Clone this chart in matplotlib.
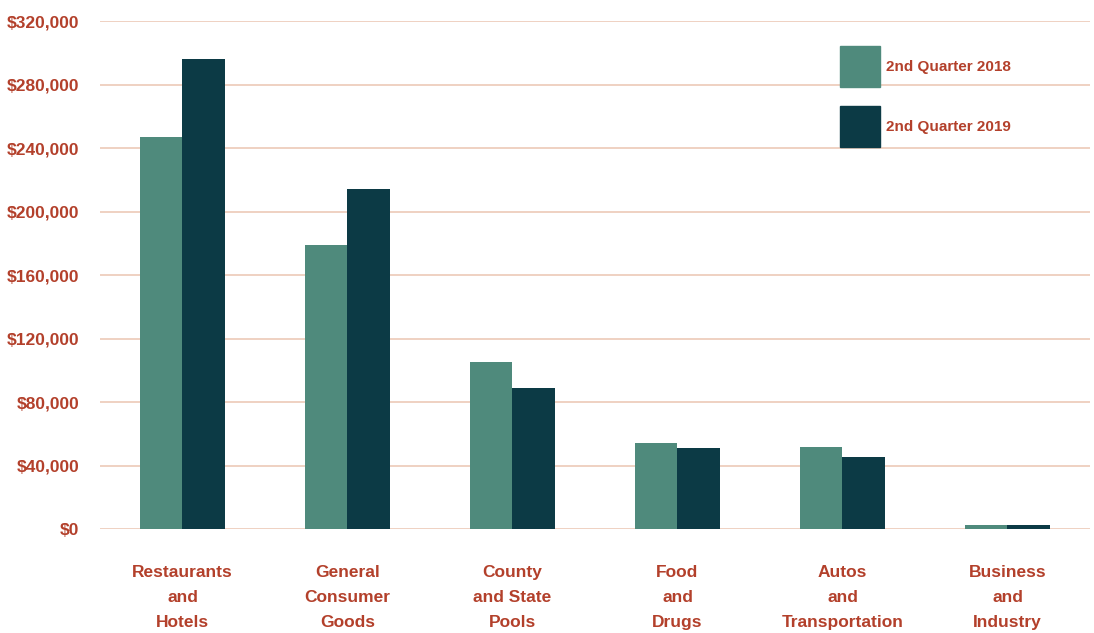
import matplotlib
matplotlib.use("Agg")
import matplotlib.pyplot as plt
import numpy as np
from matplotlib.ticker import FuncFormatter
from matplotlib.patches import Rectangle

categories = ["Restaurants\nand\nHotels", "General\nConsumer\nGoods", "County\nand State\nPools",
              "Food\nand\nDrugs", "Autos\nand\nTransportation", "Business\nand\nIndustry"]
q2_2018 = [246800, 178600, 105400, 54300, 51800, 2500]
q2_2019 = [296000, 214000, 89000, 51100, 45400, 2400]
series_labels = ["2nd Quarter 2018", "2nd Quarter 2019"]
yticks = list(range(0, 320001, 40000))

c2018 = "#4f8a7c"
c2019 = "#0c3a45"
txt = "#b3402b"
grid = "#ecc9b8"

plt.rcParams['font.family'] = ['Liberation Sans Narrow', 'Liberation Sans', 'DejaVu Sans']

W, H = 1094, 633
fig = plt.figure(figsize=(W / 100, H / 100), dpi=100)
ax = fig.add_axes([0.0914, 0.1643, 0.9049, 0.8025])

x = np.arange(len(categories))
w = 0.255
ax.bar(x - w / 2, q2_2018, w, color=c2018, label=series_labels[0], zorder=3)
ax.bar(x + w / 2, q2_2019, w, color=c2019, label=series_labels[1], zorder=3)

ax.set_xlim(-0.5, len(categories) - 0.5)
ax.set_ylim(0, 320000)
ax.set_yticks(yticks)
ax.yaxis.set_major_formatter(FuncFormatter(lambda v, p: f"${int(v):,}"))
ax.grid(axis='y', color=grid, linewidth=1.2, zorder=0)
ax.set_xticks(x)
ax.set_xticklabels(categories, linespacing=1.84)
for s in ax.spines.values():
    s.set_visible(False)
ax.tick_params(axis='both', length=0, colors=txt)
ax.tick_params(axis='y', pad=15, labelsize=12.5)
ax.tick_params(axis='x', pad=26, labelsize=12.5)
for lab in ax.get_xticklabels() + ax.get_yticklabels():
    lab.set_fontweight('bold')
    lab.set_color(txt)

# legend drawn manually (square swatches)
for i, (lbl, col) in enumerate(zip(series_labels, [c2018, c2019])):
    top = 46 + i * 60
    fig.add_artist(Rectangle((840 / W, 1 - (top + 41) / H), 40 / W, 41 / H,
                             transform=fig.transFigure, color=col, zorder=5))
    fig.text(886 / W, 1 - (top + 21) / H, lbl, color=txt, fontsize=11,
             fontweight='bold', va='center', ha='left')

fig.savefig("out.png", dpi=100)
